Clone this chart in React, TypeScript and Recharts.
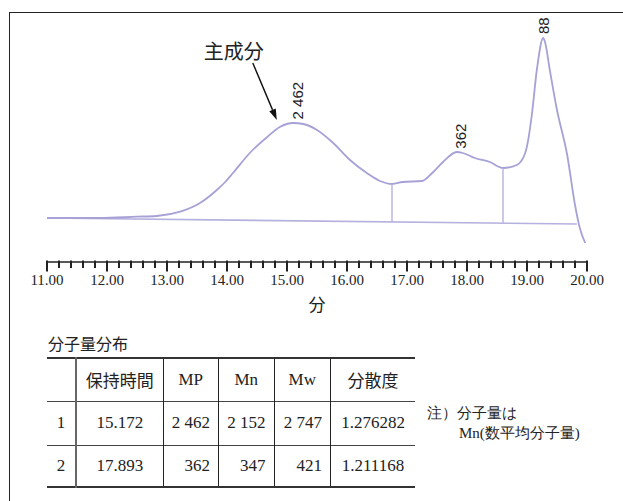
import {ComposedChart, Line, XAxis, YAxis, ReferenceLine, ReferenceDot} from "recharts";

// chromatogram trace: retention time (min) and detector signal
const times = [
  11.0, 11.88, 12.5, 12.83, 13.22, 13.55, 13.83, 13.97, 14.1, 14.38, 14.67, 14.88, 15.1, 15.27, 15.5,
  15.77, 16.05, 16.33, 16.55, 16.75, 16.93, 17.25, 17.42, 17.6, 17.83, 17.93, 18.13, 18.38,
  18.6, 18.83, 18.97, 19.02, 19.08, 19.17, 19.27, 19.3, 19.38, 19.5, 19.67, 19.8, 19.88, 19.97,
];
const signal = [
  0, 0, 1.3, 2, 6.3, 15, 28, 36, 45, 65, 81, 91, 95, 94, 88,
  75, 58, 45, 37, 34, 36, 37, 45, 56, 66, 65, 60, 56,
  50, 53, 65, 78, 103, 151, 180, 176, 148, 108, 63, 13, -10, -25,
];

// baseline drawn under the peaks
const baseTimes = [11.0, 19.83];
const baseValues = [0, -6];

// peak split lines
const dropTimes = [16.75, 18.6];

// peak labels (molecular weight)
const peakTimes = [15.172, 17.893, 19.27];
const peakLabels = ["2 462", "362", "88"];

const majorTicks = [11, 12, 13, 14, 15, 16, 17, 18, 19, 20];

// table
const tableHead = ["", "保持時間", "MP", "Mn", "Mw", "分散度"];
const rowNo = ["1", "2"];
const retention = ["15.172", "17.893"];
const mp = ["2 462", "362"];
const mn = ["2 152", "347"];
const mw = ["2 747", "421"];
const dispersity = ["1.276282", "1.211168"];

const traceColor = "#a6a1d7";
const serif = '"Liberation Serif", "Times New Roman", serif';
const cjk = '"Noto Sans CJK JP", sans-serif';

const minorTicks: number[] = [];
majorTicks.forEach((m, i) => {
  if (i === majorTicks.length - 1) {
    minorTicks.push(m);
    return;
  }
  for (let k = 0; k < 5; k++) minorTicks.push(+(m + k * 0.2).toFixed(1));
});

const interp = (xs: number[], ys: number[], t: number) => {
  for (let i = 0; i < xs.length - 1; i++) {
    if (t >= xs[i] && t <= xs[i + 1]) {
      const f = (t - xs[i]) / (xs[i + 1] - xs[i]);
      return ys[i] + f * (ys[i + 1] - ys[i]);
    }
  }
  return ys[ys.length - 1];
};

const signalData = times.map((t, i) => ({t, v: signal[i]}));
const baseData = baseTimes.map((t, i) => ({t, v: baseValues[i]}));

// y is the axis line (tickSize and tickMargin are 0)
const AxisTick = (props: any) => {
  const {x, y, payload} = props;
  const v = payload.value;
  const major = Math.abs(v - Math.round(v)) < 1e-6;
  return (
    <g>
      <rect x={x - 1} y={y - 1.5} width={2} height={major ? 11 : 7.5} fill="#222"/>
      {major && (
        <text x={x} y={y + 18} textAnchor="middle" dominantBaseline="central"
              style={{fontFamily: serif}} fontSize={15} fill="#222">
          {v.toFixed(2)}
        </text>
      )}
    </g>
  );
};

const AxisTitle = (props: any) => {
  const {x, y, width} = props.viewBox;
  return (
    <text x={x + width / 2} y={y + 41} textAnchor="middle" dominantBaseline="central"
          style={{fontFamily: cjk}} fontSize={17} fill="#222">分</text>
  );
};

const PeakLabel = (label: string) => (props: any) => {
  const {cx, cy} = props;
  const y = cy - 4;
  return (
    <text x={cx} y={y} transform={`rotate(-90 ${cx} ${y})`} textAnchor="start"
          dominantBaseline="central" style={{fontFamily: '"Liberation Sans", Arial, sans-serif'}}
          fontSize={15} fill="#222">
      {label}
    </text>
  );
};

const Arrow = (props: any) => {
  const {cx, cy} = props;
  const dx = -24, dy = -57;
  const len = Math.hypot(dx, dy);
  const ux = -dx / len, uy = -dy / len;
  const bx = cx - ux * 11, by = cy - uy * 11;
  const px = -uy, py = ux;
  return (
    <g>
      <line x1={cx + dx} y1={cy + dy} x2={bx} y2={by} stroke="#111" strokeWidth={1.4}/>
      <polygon points={`${cx},${cy} ${bx + px * 3.5},${by + py * 3.5} ${bx - px * 3.5},${by - py * 3.5}`} fill="#111"/>
      <text x={cx - 43} y={cy - 70} textAnchor="middle" dominantBaseline="central"
            style={{fontFamily: cjk}} fontSize={20} fill="#222">主成分</text>
    </g>
  );
};

const cell: React.CSSProperties = {
  fontFamily: serif,
  fontSize: 17,
  color: "#222",
  padding: 0,
  borderLeft: "1px solid #222",
  whiteSpace: "nowrap",
};

const colWidths = [29, 87, 55.5, 55.5, 56.5, 84.5];
const rowHeights = [43, 44, 42];

const App = () => {
  const rows = rowNo.map((n, i) => [n, retention[i], mp[i], mn[i], mw[i], dispersity[i]]);
  return (
    <div style={{position: "absolute", left: 0, top: 0, width: 623, height: 501, overflow: "hidden", background: "#fff"}}>
      <div style={{position: "absolute", left: 9, top: 12, width: 700, height: 600,
        borderTop: "1.5px solid #222", borderLeft: "1.5px solid #222"}}/>
      <div style={{position: "absolute", left: 0, top: 0}}>
        <ComposedChart width={623} height={320} margin={{top: 12, right: 36, bottom: 8, left: 47}}>
          <XAxis type="number" dataKey="t" domain={[11, 20]} ticks={minorTicks} interval={0}
                 tickSize={0} tickMargin={0} tickLine={false} tick={<AxisTick/>}
                 axisLine={{stroke: "#222", strokeWidth: 1.5}} height={50} label={<AxisTitle/>}/>
          <YAxis type="number" hide domain={[-44, 206]} allowDataOverflow/>
          <Line data={baseData} dataKey="v" type="linear" stroke="#b5b1de" strokeWidth={1.6}
                dot={false} activeDot={false} isAnimationActive={false}/>
          <Line data={signalData} dataKey="v" type="monotone" stroke={traceColor} strokeWidth={1.8}
                dot={false} activeDot={false} isAnimationActive={false}/>
          {dropTimes.map(t => (
            <ReferenceLine key={t} ifOverflow="visible" stroke="#b5b1de" strokeWidth={1.4}
                           segment={[{x: t, y: interp(times, signal, t)}, {x: t, y: interp(baseTimes, baseValues, t)}]}/>
          ))}
          {peakTimes.map((t, i) => (
            <ReferenceDot key={t} x={t} y={interp(times, signal, t)} r={0} ifOverflow="visible"
                          shape={PeakLabel(peakLabels[i])}/>
          ))}
          <ReferenceDot x={14.83} y={98} r={0} ifOverflow="visible" shape={Arrow}/>
        </ComposedChart>
      </div>

      <div style={{position: "absolute", left: 48, top: 331, fontFamily: cjk, fontSize: 16, color: "#222", lineHeight: "24px"}}>
        分子量分布
      </div>

      <table style={{position: "absolute", left: 47, top: 357, borderCollapse: "collapse", tableLayout: "fixed",
        borderTop: "2px solid #333", borderBottom: "2px solid #333"}}>
        <colgroup>
          {colWidths.map((w, i) => <col key={i} style={{width: w}}/>)}
        </colgroup>
        <tbody>
          <tr style={{height: rowHeights[0]}}>
            {tableHead.map((h, i) => (
              <td key={i} style={{...cell, textAlign: "center", borderLeft: i === 0 ? "none" : i === 1 ? "2px solid #666" : cell.borderLeft,
                fontFamily: i === 1 || i === 5 ? cjk : serif}}>{h}</td>
            ))}
          </tr>
          {rows.map((r, ri) => (
            <tr key={ri} style={{height: rowHeights[ri + 1], borderTop: "1.5px solid #444"}}>
              {r.map((v, i) => (
                <td key={i} style={{...cell,
                  textAlign: i >= 2 && i <= 4 ? "right" : "center",
                  paddingRight: i >= 2 && i <= 4 ? 8 : 0,
                  borderLeft: i === 0 ? "none" : i === 1 ? "2px solid #666" : cell.borderLeft}}>{v}</td>
              ))}
            </tr>
          ))}
        </tbody>
      </table>

      <div style={{position: "absolute", left: 427, top: 403, fontFamily: serif, fontSize: 15, color: "#222", lineHeight: "20px"}}>
        <div>注）分子量は</div>
        <div style={{paddingLeft: 32}}>Mn(数平均分子量)</div>
      </div>
    </div>
  );
};

export default App;
